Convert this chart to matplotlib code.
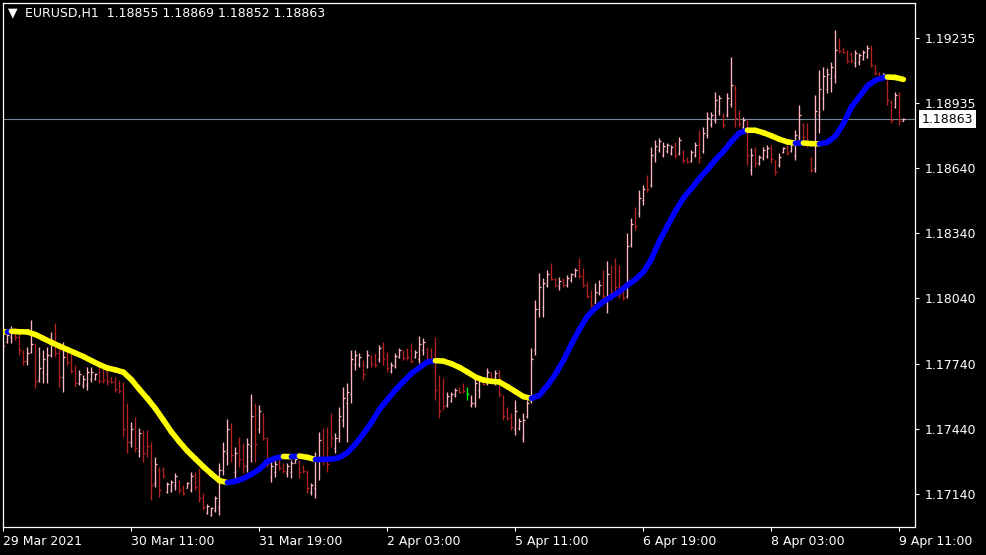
import matplotlib
matplotlib.use('Agg')
import matplotlib.pyplot as plt
from matplotlib.collections import LineCollection

# EURUSD H1 bars, 29 Mar 2021 03:00 -> 9 Apr 2021 12:00
opens = [1.17880, 1.17840, 1.17860, 1.17890, 1.17860, 1.17795, 1.17750, 1.17795, 1.17825, 1.17665,
         1.17700, 1.17690, 1.17780, 1.17840, 1.17790, 1.17680, 1.17770, 1.17745, 1.17705, 1.17650,
         1.17640, 1.17640, 1.17670, 1.17670, 1.17700, 1.17715, 1.17700, 1.17675, 1.17660, 1.17650,
         1.17640, 1.17500, 1.17380, 1.17450, 1.17340, 1.17420, 1.17420, 1.17360, 1.17190, 1.17250,
         1.17255, 1.17150, 1.17160, 1.17180, 1.17200, 1.17170, 1.17170, 1.17160, 1.17230, 1.17200,
         1.17120, 1.17055, 1.17045, 1.17065, 1.17080, 1.17250, 1.17330, 1.17440, 1.17240, 1.17380,
         1.17340, 1.17270, 1.17360, 1.17500, 1.17440, 1.17500, 1.17390, 1.17220, 1.17240, 1.17300,
         1.17270, 1.17235, 1.17240, 1.17285, 1.17290, 1.17265, 1.17240, 1.17150, 1.17170, 1.17290,
         1.17400, 1.17350, 1.17480, 1.17350, 1.17400, 1.17480, 1.17560, 1.17600, 1.17740, 1.17740,
         1.17740, 1.17730, 1.17770, 1.17775, 1.17760, 1.17820, 1.17770, 1.17705, 1.17730, 1.17770,
         1.17795, 1.17800, 1.17800, 1.17770, 1.17760, 1.17800, 1.17805, 1.17800, 1.17780, 1.17640,
         1.17600, 1.17550, 1.17570, 1.17595, 1.17628, 1.17640, 1.17600, 1.17548, 1.17560, 1.17620,
         1.17668, 1.17650, 1.17695, 1.17660, 1.17695, 1.17590, 1.17520, 1.17495, 1.17440, 1.17445,
         1.17400, 1.17500, 1.17570, 1.17800, 1.17990, 1.18000, 1.18100, 1.18160, 1.18128, 1.18095,
         1.18125, 1.18100, 1.18125, 1.18145, 1.18170, 1.18140, 1.18100, 1.18050, 1.18020, 1.18065,
         1.18100, 1.18040, 1.18150, 1.18180, 1.18100, 1.18070, 1.18050, 1.18290, 1.18420, 1.18430,
         1.18490, 1.18590, 1.18560, 1.18690, 1.18720, 1.18700, 1.18715, 1.18705, 1.18745, 1.18705,
         1.18710, 1.18685, 1.18670, 1.18700, 1.18750, 1.18715, 1.18790, 1.18840, 1.18860, 1.18900,
         1.18880, 1.18880, 1.18930, 1.19000, 1.18890, 1.18825, 1.18850, 1.18630, 1.18720, 1.18660,
         1.18685, 1.18695, 1.18730, 1.18670, 1.18650, 1.18712, 1.18735, 1.18715, 1.18700, 1.18780,
         1.18835, 1.18800, 1.18680, 1.18640, 1.18880, 1.18960, 1.19000, 1.19050, 1.19060, 1.19200,
         1.19185, 1.19170, 1.19160, 1.19120, 1.19125, 1.19140, 1.19150, 1.19190, 1.19105, 1.19075,
         1.19055, 1.19030, 1.18940, 1.18920, 1.18975, 1.18855]
highs = [1.17894, 1.17880, 1.17912, 1.17903, 1.17884, 1.17802, 1.17816, 1.17940, 1.17834, 1.17816,
         1.17802, 1.17816, 1.17884, 1.17926, 1.17834, 1.17839, 1.17802, 1.17788, 1.17733, 1.17710,
         1.17687, 1.17724, 1.17724, 1.17696, 1.17724, 1.17724, 1.17719, 1.17678, 1.17678, 1.17664,
         1.17655, 1.17558, 1.17471, 1.17494, 1.17443, 1.17434, 1.17434, 1.17379, 1.17310, 1.17264,
         1.17264, 1.17195, 1.17205, 1.17237, 1.17205, 1.17181, 1.17195, 1.17241, 1.17241, 1.17260,
         1.17145, 1.17094, 1.17080, 1.17131, 1.17283, 1.17379, 1.17485, 1.17466, 1.17356, 1.17402,
         1.17375, 1.17397, 1.17600, 1.17558, 1.17549, 1.17512, 1.17402, 1.17296, 1.17296, 1.17310,
         1.17283, 1.17283, 1.17296, 1.17310, 1.17296, 1.17273, 1.17250, 1.17191, 1.17333, 1.17425,
         1.17443, 1.17448, 1.17512, 1.17420, 1.17540, 1.17632, 1.17650, 1.17802, 1.17802, 1.17788,
         1.17756, 1.17802, 1.17779, 1.17788, 1.17825, 1.17839, 1.17793, 1.17747, 1.17788, 1.17811,
         1.17802, 1.17811, 1.17834, 1.17802, 1.17866, 1.17857, 1.17816, 1.17811, 1.17861, 1.17687,
         1.17673, 1.17609, 1.17609, 1.17627, 1.17632, 1.17650, 1.17632, 1.17595, 1.17678, 1.17678,
         1.17673, 1.17719, 1.17701, 1.17710, 1.17710, 1.17595, 1.17540, 1.17512, 1.17572, 1.17489,
         1.17512, 1.17572, 1.17811, 1.18031, 1.18155, 1.18132, 1.18169, 1.18201, 1.18132, 1.18137,
         1.18132, 1.18146, 1.18155, 1.18178, 1.18224, 1.18178, 1.18114, 1.18077, 1.18110, 1.18123,
         1.18169, 1.18211, 1.18192, 1.18224, 1.18192, 1.18100, 1.18339, 1.18408, 1.18459, 1.18537,
         1.18560, 1.18606, 1.18734, 1.18766, 1.18776, 1.18757, 1.18753, 1.18743, 1.18757, 1.18780,
         1.18720, 1.18688, 1.18720, 1.18757, 1.18812, 1.18826, 1.18895, 1.18895, 1.18987, 1.18973,
         1.18890, 1.18982, 1.19148, 1.19019, 1.18904, 1.18872, 1.18858, 1.18730, 1.18734, 1.18698,
         1.18734, 1.18743, 1.18743, 1.18675, 1.18707, 1.18734, 1.18743, 1.18757, 1.18812, 1.18927,
         1.18845, 1.18845, 1.18688, 1.18973, 1.19088, 1.19102, 1.19097, 1.19125, 1.19272, 1.19235,
         1.19189, 1.19180, 1.19171, 1.19180, 1.19166, 1.19180, 1.19203, 1.19203, 1.19111, 1.19079,
         1.19074, 1.19042, 1.18950, 1.18987, 1.18987, 1.18869]
lows = [1.17779, 1.17834, 1.17834, 1.17848, 1.17779, 1.17733, 1.17733, 1.17788, 1.17627, 1.17655,
        1.17650, 1.17650, 1.17770, 1.17770, 1.17632, 1.17609, 1.17733, 1.17696, 1.17632, 1.17641,
        1.17627, 1.17618, 1.17655, 1.17664, 1.17650, 1.17650, 1.17641, 1.17650, 1.17609, 1.17604,
        1.17402, 1.17329, 1.17356, 1.17333, 1.17310, 1.17287, 1.17310, 1.17113, 1.17172, 1.17126,
        1.17214, 1.17145, 1.17149, 1.17159, 1.17145, 1.17136, 1.17168, 1.17149, 1.17159, 1.17103,
        1.17067, 1.17048, 1.17039, 1.17057, 1.17044, 1.17227, 1.17273, 1.17287, 1.17214, 1.17264,
        1.17237, 1.17241, 1.17287, 1.17287, 1.17420, 1.17388, 1.17264, 1.17195, 1.17218, 1.17250,
        1.17237, 1.17218, 1.17214, 1.17283, 1.17214, 1.17237, 1.17145, 1.17136, 1.17122, 1.17205,
        1.17273, 1.17241, 1.17356, 1.17329, 1.17379, 1.17448, 1.17379, 1.17558, 1.17710, 1.17724,
        1.17664, 1.17719, 1.17724, 1.17724, 1.17747, 1.17733, 1.17701, 1.17696, 1.17719, 1.17765,
        1.17756, 1.17756, 1.17742, 1.17765, 1.17742, 1.17779, 1.17742, 1.17747, 1.17572, 1.17489,
        1.17526, 1.17540, 1.17563, 1.17586, 1.17604, 1.17604, 1.17572, 1.17540, 1.17540, 1.17581,
        1.17641, 1.17641, 1.17655, 1.17641, 1.17586, 1.17480, 1.17480, 1.17434, 1.17411, 1.17434,
        1.17379, 1.17489, 1.17558, 1.17779, 1.17953, 1.17953, 1.18091, 1.18123, 1.18091, 1.18077,
        1.18091, 1.18091, 1.18114, 1.18137, 1.18132, 1.18091, 1.18041, 1.17999, 1.18018, 1.18054,
        1.18031, 1.17972, 1.18031, 1.18054, 1.18041, 1.18031, 1.18041, 1.18275, 1.18353, 1.18413,
        1.18468, 1.18528, 1.18551, 1.18665, 1.18711, 1.18688, 1.18707, 1.18698, 1.18684, 1.18698,
        1.18661, 1.18661, 1.18665, 1.18688, 1.18661, 1.18707, 1.18776, 1.18826, 1.18845, 1.18881,
        1.18822, 1.18872, 1.18918, 1.18826, 1.18826, 1.18812, 1.18652, 1.18606, 1.18642, 1.18652,
        1.18675, 1.18684, 1.18661, 1.18606, 1.18642, 1.18707, 1.18698, 1.18711, 1.18675, 1.18743,
        1.18766, 1.18734, 1.18619, 1.18619, 1.18799, 1.18904, 1.18982, 1.18987, 1.19028, 1.19166,
        1.19166, 1.19120, 1.19120, 1.19102, 1.19111, 1.19134, 1.19143, 1.19102, 1.19065, 1.19042,
        1.19051, 1.18927, 1.18845, 1.18913, 1.18835, 1.18852]
closes = [1.17820, 1.17870, 1.17890, 1.17860, 1.17800, 1.17750, 1.17790, 1.17830, 1.17660, 1.17720,
          1.17760, 1.17780, 1.17840, 1.17790, 1.17680, 1.17770, 1.17745, 1.17705, 1.17650, 1.17690,
          1.17670, 1.17700, 1.17700, 1.17690, 1.17660, 1.17665, 1.17660, 1.17655, 1.17625, 1.17615,
          1.17440, 1.17380, 1.17440, 1.17350, 1.17420, 1.17330, 1.17360, 1.17180, 1.17280, 1.17160,
          1.17225, 1.17185, 1.17195, 1.17225, 1.17160, 1.17145, 1.17190, 1.17225, 1.17175, 1.17120,
          1.17080, 1.17085, 1.17075, 1.17120, 1.17250, 1.17340, 1.17440, 1.17320, 1.17330, 1.17300,
          1.17270, 1.17370, 1.17500, 1.17370, 1.17520, 1.17400, 1.17280, 1.17270, 1.17280, 1.17260,
          1.17245, 1.17270, 1.17285, 1.17300, 1.17240, 1.17245, 1.17170, 1.17180, 1.17300, 1.17390,
          1.17300, 1.17280, 1.17400, 1.17400, 1.17500, 1.17580, 1.17610, 1.17760, 1.17780, 1.17770,
          1.17690, 1.17780, 1.17740, 1.17735, 1.17810, 1.17760, 1.17720, 1.17735, 1.17775, 1.17800,
          1.17765, 1.17770, 1.17750, 1.17795, 1.17830, 1.17840, 1.17760, 1.17765, 1.17620, 1.17520,
          1.17545, 1.17590, 1.17600, 1.17620, 1.17610, 1.17615, 1.17600, 1.17560, 1.17650, 1.17660,
          1.17648, 1.17700, 1.17665, 1.17695, 1.17600, 1.17500, 1.17490, 1.17450, 1.17520, 1.17475,
          1.17480, 1.17560, 1.17760, 1.17990, 1.18090, 1.18110, 1.18150, 1.18130, 1.18100, 1.18120,
          1.18100, 1.18135, 1.18150, 1.18170, 1.18140, 1.18100, 1.18050, 1.18010, 1.18070, 1.18100,
          1.18050, 1.18150, 1.18070, 1.18090, 1.18060, 1.18040, 1.18280, 1.18380, 1.18370, 1.18500,
          1.18540, 1.18540, 1.18700, 1.18740, 1.18760, 1.18740, 1.18745, 1.18735, 1.18700, 1.18765,
          1.18675, 1.18665, 1.18710, 1.18745, 1.18690, 1.18800, 1.18870, 1.18880, 1.18950, 1.18960,
          1.18835, 1.18960, 1.19020, 1.18870, 1.18840, 1.18860, 1.18700, 1.18700, 1.18660, 1.18690,
          1.18720, 1.18730, 1.18680, 1.18620, 1.18690, 1.18730, 1.18705, 1.18750, 1.18790, 1.18880,
          1.18780, 1.18750, 1.18630, 1.18900, 1.19000, 1.19060, 1.19070, 1.19100, 1.19180, 1.19175,
          1.19170, 1.19130, 1.19130, 1.19165, 1.19155, 1.19170, 1.19190, 1.19110, 1.19075, 1.19050,
          1.19070, 1.18950, 1.18860, 1.18975, 1.18855, 1.18863]

ma_idx = [0, 1, 2, 4, 6, 8, 10, 12, 14, 16, 18, 20, 22, 24, 26, 28, 30, 32, 34, 36,
          38, 40, 42, 44, 46, 48, 50, 52, 54, 56, 58, 60, 62, 64, 66, 68, 70, 72, 74, 76,
          78, 80, 82, 84, 86, 88, 90, 92, 94, 96, 98, 100, 102, 104, 106, 108, 110, 112, 114, 116,
          118, 120, 122, 124, 126, 128, 130, 132, 134, 136, 138, 140, 142, 144, 146, 148, 150, 152, 154, 156,
          158, 160, 162, 164, 166, 168, 170, 172, 174, 176, 178, 180, 182, 184, 186, 188, 190, 192, 194, 196,
          198, 200, 202, 204, 206, 208, 210, 212, 214, 216, 218, 220, 221, 223, 225]
ma_val = [1.17886, 1.17885, 1.17888, 1.17886, 1.17885, 1.17873, 1.17855, 1.17837, 1.17820, 1.17804,
          1.17788, 1.17772, 1.17753, 1.17735, 1.17719, 1.17711, 1.17700, 1.17666, 1.17621, 1.17579,
          1.17533, 1.17480, 1.17426, 1.17380, 1.17338, 1.17302, 1.17266, 1.17233, 1.17202, 1.17193,
          1.17199, 1.17212, 1.17231, 1.17254, 1.17290, 1.17305, 1.17313, 1.17312, 1.17315, 1.17309,
          1.17299, 1.17300, 1.17301, 1.17308, 1.17331, 1.17370, 1.17416, 1.17469, 1.17529, 1.17574,
          1.17618, 1.17657, 1.17694, 1.17721, 1.17747, 1.17753, 1.17751, 1.17739, 1.17722, 1.17701,
          1.17678, 1.17664, 1.17658, 1.17655, 1.17634, 1.17611, 1.17588, 1.17580, 1.17594, 1.17639,
          1.17691, 1.17754, 1.17829, 1.17896, 1.17958, 1.17995, 1.18024, 1.18047, 1.18070, 1.18100,
          1.18126, 1.18160, 1.18220, 1.18302, 1.18371, 1.18440, 1.18500, 1.18544, 1.18590, 1.18631,
          1.18675, 1.18714, 1.18760, 1.18799, 1.18812, 1.18811, 1.18800, 1.18786, 1.18770, 1.18758,
          1.18752, 1.18753, 1.18750, 1.18749, 1.18756, 1.18785, 1.18842, 1.18918, 1.18966, 1.19015,
          1.19041, 1.19053, 1.19056, 1.19054, 1.19045]

xtick_pos = [0, 32, 64, 96, 128, 160, 192, 224]
xtick_labels = ['29 Mar 2021', '30 Mar 11:00', '31 Mar 19:00', '2 Apr 03:00',
                '5 Apr 11:00', '6 Apr 19:00', '8 Apr 03:00', '9 Apr 11:00']
ytick_vals = [1.19235, 1.18935, 1.18640, 1.18340, 1.18040, 1.17740, 1.17440, 1.17140]

plt.rcParams['font.family'] = ['DejaVu Sans']

fig = plt.figure(figsize=(9.87, 5.55), dpi=100, facecolor='black')
ax = fig.add_axes([3 / 987, 28 / 555, 912 / 987, 524 / 555])
ax.set_facecolor('black')

# OHLC bars
bar_segs, bar_cols = [], []
for i, (o, h, l, c) in enumerate(zip(opens, highs, lows, closes)):
    if c > o:
        col = '#ffb6c1'
    elif c < o:
        col = '#b22222'
    else:
        col = '#00ff00'
    bar_segs += [[(i, l), (i, h)], [(i - 0.4, o), (i, o)], [(i, c), (i + 0.4, c)]]
    bar_cols += [col] * 3
ax.add_collection(LineCollection(bar_segs, colors=bar_cols, linewidths=0.95,
                                 antialiased=True, zorder=2))

# current price line
ax.axhline(closes[-1], color='#778899', lw=0.8, zorder=1)

# MA coloured by direction
ma_segs, ma_cols = [], []
for k in range(len(ma_idx) - 1):
    ma_segs.append([(ma_idx[k], ma_val[k]), (ma_idx[k + 1], ma_val[k + 1])])
    ma_cols.append('#0000ff' if ma_val[k + 1] > ma_val[k] else '#ffff00')
ax.add_collection(LineCollection(ma_segs, colors=ma_cols, linewidths=4.0,
                                 capstyle='round', joinstyle='round', zorder=3))

ax.set_xlim(-0.1, 227.9)
ax.set_ylim(1.16989, 1.19396)

for s in ax.spines.values():
    s.set_color('white')
    s.set_linewidth(0.9)

ax.yaxis.tick_right()
ax.set_yticks(ytick_vals)
ax.set_yticklabels(['%.5f' % v for v in ytick_vals])
ax.set_xticks(xtick_pos)
ax.set_xticklabels(xtick_labels)
for lab in ax.get_xticklabels():
    lab.set_horizontalalignment('left')
ax.tick_params(axis='both', colors='white', labelcolor='white', labelsize=9,
               length=3, width=0.8)
ax.tick_params(axis='y', pad=4)
ax.tick_params(axis='x', pad=3)

# current price box
ax.text(1.0075, closes[-1], '%.5f' % closes[-1], transform=ax.get_yaxis_transform(),
        ha='left', va='center', fontsize=9, color='black',
        bbox=dict(boxstyle='square,pad=0.22', facecolor='white', edgecolor='none'))

# header
fig.text(8 / 987, 1 - 13 / 555, '\u25bc', color='white', fontsize=9, va='center', ha='left')
fig.text(25 / 987, 1 - 13 / 555,
         'EURUSD,H1  %.5f %.5f %.5f %.5f' % (opens[-1], highs[-1], lows[-1], closes[-1]),
         color='white', fontsize=9, va='center', ha='left')

fig.savefig('out.png', dpi=100, facecolor='black')
